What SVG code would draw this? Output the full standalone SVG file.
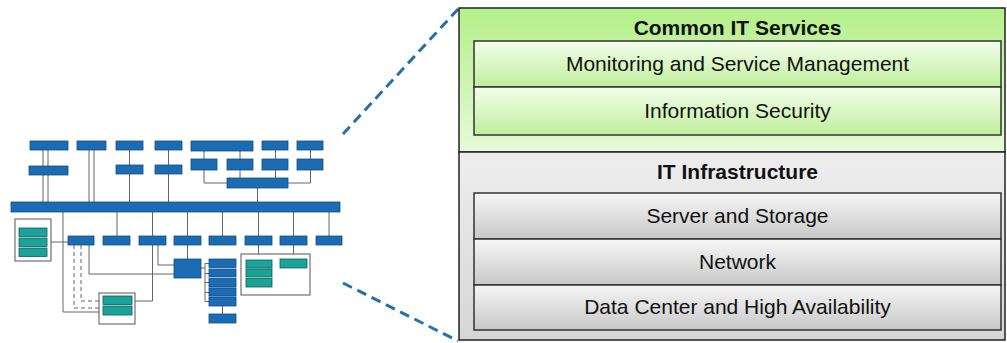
<svg xmlns="http://www.w3.org/2000/svg" width="1007" height="343" viewBox="0 0 1007 343">
  <style>
    .bx { fill: #1b6cb2; stroke: #0f4f88; stroke-width: 0.8; }
    .tl { fill: #1ba39a; stroke: #0c5e59; stroke-width: 0.8; }
    .grp { fill: #ffffff; stroke: #555555; stroke-width: 1; }
    .ln { fill: none; stroke: #666666; stroke-width: 1; }
    .dl { fill: none; stroke: #666666; stroke-width: 1; stroke-dasharray: 4 3; }
    .zoom { fill: none; stroke: #2370ad; stroke-width: 3; stroke-dasharray: 10 6; }
    .outer { stroke: #222222; stroke-width: 1.5; }
    .inner { stroke: #333333; stroke-width: 1.5; }
    .t { font-family: "Liberation Sans", Arial, sans-serif; font-size: 21px; fill: #111111; text-anchor: middle; }
    .h { font-weight: bold; }
  </style>
  <defs>
    <linearGradient id="gOuter" x1="0" y1="0" x2="0" y2="1">
      <stop offset="0" stop-color="#b4ef8a"/>
      <stop offset="1" stop-color="#e6fad8"/>
    </linearGradient>
    <linearGradient id="gInner" x1="0" y1="0" x2="0" y2="1">
      <stop offset="0" stop-color="#f3fdeb"/>
      <stop offset="1" stop-color="#c0ef9c"/>
    </linearGradient>
    <linearGradient id="sOuter" x1="0" y1="0" x2="0" y2="1">
      <stop offset="0" stop-color="#eeeeee"/>
      <stop offset="1" stop-color="#d6d6d6"/>
    </linearGradient>
    <linearGradient id="sInner" x1="0" y1="0" x2="0" y2="1">
      <stop offset="0" stop-color="#f6f6f6"/>
      <stop offset="1" stop-color="#c8c8c8"/>
    </linearGradient>
  </defs>

  <rect width="1007" height="343" fill="#ffffff"/>

  <!-- overview architecture: connectors -->
  <g id="connectors">
    <!-- channels down to the bus -->
    <path class="ln" d="M43 150V166M48 150V166M43 175V202M48 175V202"/>
    <path class="ln" d="M89 150V202M94 150V202"/>
    <path class="ln" d="M129.5 150V165M129.5 174V202"/>
    <path class="ln" d="M168.5 150V165M168.5 174V202"/>
    <path class="ln" d="M204 151V159M240 151V159M275.5 150V159M310.5 150V159"/>
    <path class="ln" d="M204 170V183H227M240 170V178M275.5 170V178M310.5 170V183H288"/>
    <path class="ln" d="M257.5 188V202"/>
    <!-- bus down to the lower row -->
    <path class="ln" d="M117 212V236M152.5 212V236M187.5 212V236M222.5 212V236M258.5 212V236M293.5 212V236M329 212V236"/>
    <path class="ln" d="M63 212V312H103"/>
    <path class="ln" d="M51 242H68"/>
    <path class="dl" d="M74 245V308H103M81 245V301H103"/>
    <path class="ln" d="M89 245V274H174"/>
    <path class="ln" d="M152.5 245V301H132"/>
    <path class="ln" d="M158 245V265H174"/>
    <path class="ln" d="M187.5 245V259"/>
    <path class="ln" d="M201 268H205M205 263.5V301.5M205 263.5H209M205 273.5H209M205 282.5H209M205 292.5H209M205 301.5H209"/>
    <path class="ln" d="M222.5 306V314"/>
    <path class="ln" d="M258.5 245V260M293.5 245V259"/>
    <!-- zoom guides -->
    <path class="zoom" d="M343 134L459 8"/>
    <path class="zoom" d="M343 283L458 341"/>
  </g>

  <!-- overview architecture: nodes -->
  <g id="channels">
    <rect class="bx" x="30" y="141" width="38" height="9"/>
    <rect class="bx" x="77" y="141" width="29" height="9"/>
    <rect class="bx" x="116" y="141" width="27" height="9"/>
    <rect class="bx" x="155" y="141" width="27" height="9"/>
    <rect class="bx" x="191" y="141" width="62" height="10"/>
    <rect class="bx" x="262" y="141" width="26" height="9"/>
    <rect class="bx" x="297" y="141" width="26" height="9"/>
    <rect class="bx" x="29" y="166" width="39" height="9"/>
    <rect class="bx" x="116" y="165" width="27" height="9"/>
    <rect class="bx" x="155" y="165" width="27" height="9"/>
    <rect class="bx" x="191" y="159" width="26" height="11"/>
    <rect class="bx" x="227" y="159" width="26" height="11"/>
    <rect class="bx" x="262" y="159" width="26" height="11"/>
    <rect class="bx" x="297" y="159" width="26" height="11"/>
    <rect class="bx" x="227" y="178" width="61" height="10"/>
  </g>
  <g id="bus">
    <rect class="bx" x="11" y="202" width="329" height="10"/>
  </g>
  <g id="testing-platform">
    <rect class="grp" x="15" y="219" width="36" height="42"/>
    <rect class="tl" x="19" y="228" width="28" height="8.5"/>
    <rect class="tl" x="19" y="238" width="28" height="8.5"/>
    <rect class="tl" x="19" y="248" width="28" height="8.5"/>
  </g>
  <g id="lower-row">
    <rect class="bx" x="68" y="236" width="26" height="9"/>
    <rect class="bx" x="103" y="236" width="27" height="9"/>
    <rect class="bx" x="139" y="236" width="27" height="9"/>
    <rect class="bx" x="174" y="236" width="27" height="9"/>
    <rect class="bx" x="209" y="236" width="27" height="9"/>
    <rect class="bx" x="245" y="236" width="27" height="9"/>
    <rect class="bx" x="280" y="236" width="27" height="9"/>
    <rect class="bx" x="316" y="236" width="26" height="9"/>
  </g>
  <g id="payment-systems">
    <rect class="grp" x="99" y="293" width="36" height="31"/>
    <rect class="tl" x="103" y="296" width="29" height="8.5"/>
    <rect class="tl" x="103" y="306" width="29" height="9"/>
  </g>
  <g id="core-hub">
    <rect class="bx" x="174" y="259" width="27" height="19"/>
  </g>
  <g id="service-stack">
    <rect class="bx" x="209" y="259" width="27" height="8.5"/>
    <rect class="bx" x="209" y="269" width="27" height="8"/>
    <rect class="bx" x="209" y="278.5" width="27" height="8.5"/>
    <rect class="bx" x="209" y="288" width="27" height="8"/>
    <rect class="bx" x="209" y="297" width="27" height="9"/>
    <rect class="bx" x="209" y="314" width="27" height="9"/>
  </g>
  <g id="card-networks">
    <rect class="grp" x="241" y="254" width="69" height="41"/>
    <rect class="tl" x="246" y="260" width="26" height="8"/>
    <rect class="tl" x="246" y="269" width="26" height="8"/>
    <rect class="tl" x="246" y="278.5" width="26" height="8.5"/>
    <rect class="tl" x="280" y="259" width="27" height="9"/>
  </g>

  <!-- layered view -->
  <g id="common-it-services">
    <rect class="outer" x="459" y="8" width="546" height="144" fill="url(#gOuter)"/>
    <text class="t h" x="737.5" y="35">Common IT Services</text>
  </g>
  <g id="monitoring">
    <rect class="inner" x="474" y="41" width="527" height="46" fill="url(#gInner)"/>
    <text class="t" x="737.5" y="71">Monitoring and Service Management</text>
  </g>
  <g id="information-security">
    <rect class="inner" x="474" y="87" width="527" height="48" fill="url(#gInner)"/>
    <text class="t" x="737.5" y="118">Information Security</text>
  </g>
  <g id="it-infrastructure">
    <rect class="outer" x="459" y="152" width="546" height="188" fill="url(#sOuter)"/>
    <text class="t h" x="737.5" y="179">IT Infrastructure</text>
  </g>
  <g id="server-storage">
    <rect class="inner" x="474" y="193" width="527" height="46" fill="url(#sInner)"/>
    <text class="t" x="737.5" y="223">Server and Storage</text>
  </g>
  <g id="network">
    <rect class="inner" x="474" y="239" width="527" height="46" fill="url(#sInner)"/>
    <text class="t" x="737.5" y="269">Network</text>
  </g>
  <g id="data-center">
    <rect class="inner" x="474" y="285" width="527" height="45" fill="url(#sInner)"/>
    <text class="t" x="737.5" y="314">Data Center and High Availability</text>
  </g>
</svg>
